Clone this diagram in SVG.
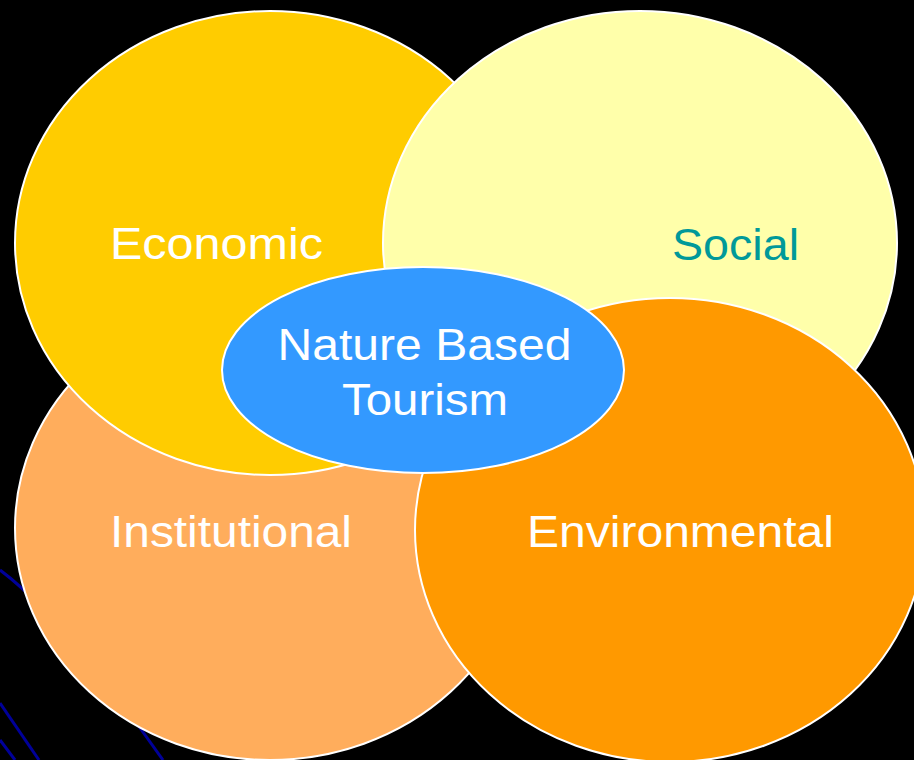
<svg xmlns="http://www.w3.org/2000/svg" width="914" height="760" viewBox="0 0 914 760">
<style>
.c{stroke:#ffffff;stroke-width:2}
.t{font-family:"Liberation Sans",Arial,sans-serif;font-size:45px;fill:#ffffff}
.bl{stroke:#000099;stroke-width:3;fill:none}
</style>
<rect x="0" y="0" width="914" height="760" fill="#000000"/>
<g id="decor">
<path class="bl" d="M0,570 Q20,585 40,606"/>
<path class="bl" d="M0,703 L39,760"/>
<path class="bl" d="M0,740 L15,760"/>
<path class="bl" d="M120,700 L163,760"/>
</g>
<g id="institutional">
<ellipse class="c" cx="270" cy="528" rx="255" ry="232" fill="#FFAD5C"/>
<text class="t" x="110" y="547" textLength="242" lengthAdjust="spacingAndGlyphs">Institutional</text>
</g>
<g id="economic">
<ellipse class="c" cx="270" cy="243" rx="255" ry="232" fill="#FFCC00"/>
<text class="t" x="110" y="259" textLength="213" lengthAdjust="spacingAndGlyphs">Economic</text>
</g>
<g id="social">
<ellipse class="c" cx="640" cy="243" rx="257" ry="232" fill="#FFFFAA"/>
<text class="t" x="672" y="260" textLength="127" lengthAdjust="spacingAndGlyphs" style="fill:#009999">Social</text>
</g>
<g id="environmental">
<ellipse class="c" cx="670" cy="530" rx="255" ry="232" fill="#FF9900"/>
<text class="t" x="527" y="547" textLength="307" lengthAdjust="spacingAndGlyphs">Environmental</text>
</g>
<g id="nature">
<ellipse class="c" cx="423" cy="370" rx="201" ry="103" fill="#3399FF"/>
<text class="t" x="424.5" y="360" text-anchor="middle" textLength="294" lengthAdjust="spacingAndGlyphs">Nature Based</text>
<text class="t" x="425" y="415" text-anchor="middle" textLength="166" lengthAdjust="spacingAndGlyphs">Tourism</text>
</g>
<g id="connectors"/>
</svg>
